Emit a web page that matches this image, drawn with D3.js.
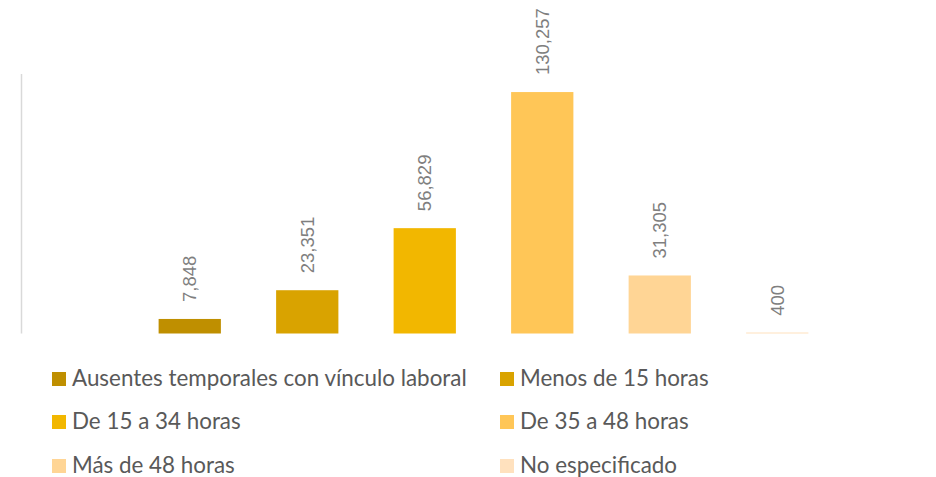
<!DOCTYPE html>
<html>
<head>
<meta charset="utf-8">
<script src="https://cdn.jsdelivr.net/npm/d3@7"></script>
<style>
  html, body { margin: 0; padding: 0; background: #fff; }
  svg { display: block; }
</style>
</head>
<body>
<svg id="chart" width="936" height="477"></svg>
<script>
const categories = [
  "Ausentes temporales con vínculo laboral",
  "Menos de 15 horas",
  "De 15 a 34 horas",
  "De 35 a 48 horas",
  "Más de 48 horas",
  "No especificado"
];
const values = [7848, 23351, 56829, 130257, 31305, 400];
const colors = ["#BF8F00", "#D9A300", "#F2B700", "#FFC657", "#FFD595", "#FFE1BE"];
const yMax = 140000;

const svg = d3.select("#chart");

const x = d3.scaleBand()
  .domain(categories)
  .range([131, 836])
  .paddingInner(0.47)
  .paddingOuter(0.235);

const y = d3.scaleLinear()
  .domain([0, yMax])
  .range([333.5, 74]);

// left axis line
svg.append("line")
  .attr("x1", 21.5).attr("x2", 21.5)
  .attr("y1", y(yMax)).attr("y2", y(0))
  .attr("stroke", "#d9d9d9")
  .attr("stroke-width", 1.5);

// bars
svg.selectAll("rect.bar")
  .data(values)
  .join("rect")
  .attr("class", "bar")
  .attr("x", (d, i) => x(categories[i]))
  .attr("width", x.bandwidth())
  .attr("y", d => Math.min(y(d), y(0) - 1))
  .attr("height", d => Math.max(y(0) - y(d), 1))
  .attr("fill", (d, i) => colors[i]);

// labels
svg.selectAll("text.lbl")
  .data(values)
  .join("text")
  .attr("class", "lbl")
  .attr("transform", (d, i) => {
    const cx = x(categories[i]) + x.bandwidth() / 2;
    const ty = y(d) - 17;
    return `translate(${cx + 6.5},${ty}) rotate(-90)`;
  })
  .attr("text-anchor", "start")
  .attr("font-family", "'Liberation Sans', Arial, sans-serif")
  .attr("font-size", 18.5)
  .attr("fill", "#7f7f7f")
  .text(d => d3.format(",")(d));

// legend
const legendPos = [
  [52, 379], [500, 379],
  [52, 422], [500, 422],
  [52, 466], [500, 466]
];
const targetWidths = [395, 186, 162, 162, 160, 154];
const lg = svg.append("g");
categories.forEach((c, i) => {
  const [lx, ly] = legendPos[i];
  lg.append("rect")
    .attr("x", lx).attr("y", ly - 7)
    .attr("width", 14).attr("height", 14)
    .attr("fill", colors[i]);
  const t = lg.append("text")
    .attr("x", lx + 20).attr("y", ly + 7)
    .attr("font-family", "Lato, 'Open Sans', sans-serif")
    .attr("font-size", 20)
    .attr("fill", "#595959")
    .text(c);
  if (i === 0) {
    const w = t.node().getComputedTextLength();
    const fs = 20 * 395 / w;
    lg.selectAll("text").attr("font-size", fs);
    lg.attr("data-fs", fs);
  } else {
    t.attr("font-size", lg.attr("data-fs"));
  }
});
</script>
</body>
</html>
